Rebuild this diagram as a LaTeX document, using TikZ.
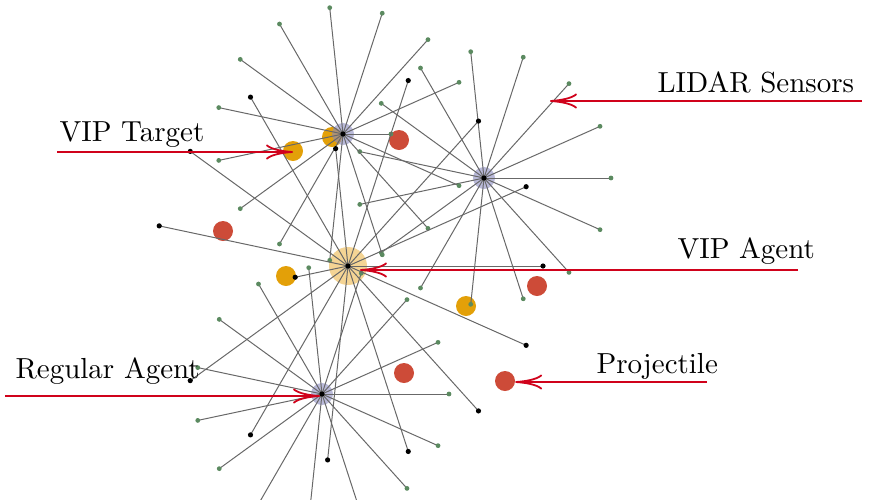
\documentclass[tikz,border=0pt]{standalone}
\usetikzlibrary{arrows.meta,calc}
\definecolor{pointred}{HTML}{D0021B}
\definecolor{vipgold}{HTML}{E3A008}
\definecolor{shotred}{HTML}{CD4B38}
\definecolor{raygray}{HTML}{686868}
\definecolor{hitgreen}{HTML}{5B8A60}
\definecolor{haze}{HTML}{8A8AC0}
\definecolor{vipglow}{HTML}{EFC267}

\begin{document}
\begin{tikzpicture}[x=1pt,y=-1pt,
    ray/.style={raygray,line width=1pt},
    tip/.style={hitgreen},
    target/.style={circle,fill=vipgold,inner sep=0pt,minimum size=20pt},
    shot/.style={circle,fill=shotred,inner sep=0pt,minimum size=20pt},
    lbl/.style={anchor=base west,scale=2.9,inner sep=0pt},
    pointer/.style={pointred,line width=1.8pt,-{To[length=27pt,width=15pt]}}]
  \useasboundingbox (0,0) rectangle (870,499);
  \clip (0,0) rectangle (870,499);
  % agents
  \coordinate (A1) at (343,134);
  \coordinate (A2) at (484,178);
  \coordinate (vip) at (348,266);
  \coordinate (A4) at (322,394);
  % targets and projectiles
  \node[target] (tgt) at (293,151) {};
  \node[target] (t2) at (332,137) {};
  \node[target] (t3) at (286,276) {};
  \node[target] (t4) at (466,306) {};
  \node[shot] (s1) at (399,140) {};
  \node[shot] (s2) at (223,231) {};
  \node[shot] (s3) at (537,286) {};
  \node[shot] (s4) at (404,373) {};
  \node[shot] (prj) at (505,381) {};
  % glow round the agents
  \fill[vipglow,opacity=0.7] (vip) circle (19);
  \foreach \ag in {A1,A2,A4} \fill[haze,opacity=0.6] (\ag) circle (11);
  % lidar beams, 15 per agent
  \foreach \ag in {A2,A4}
    \foreach \a in {0,24,...,336}
      {\draw[ray] (\ag) -- ++(-\a:127) coordinate (e); \fill[tip] (e) circle (2.4);}
  \foreach \a/\r in {0/48,24/127,48/127,72/127,96/127,120/127,144/127,168/127,192/127,216/127,240/127,264/127,288/127,312/127,336/127}
    {\draw[ray] (A1) -- ++(-\a:\r) coordinate (e); \fill[tip] (e) circle (2.4);}
  \foreach \a/\r in {0/195,24/195,48/195,72/195,96/118,120/195,144/195,168/193,192/54,216/195,240/195,264/195,288/195,312/195,336/195}
    {\draw[ray] (vip) -- ++(-\a:\r) coordinate (e); \fill (e) circle (2.6);}
  \foreach \ag in {A1,A2,vip,A4} \fill (\ag) circle (2.6);
  % labels
  \node[lbl] (lidar) at (657,92) {LIDAR Sensors};
  \node[lbl] (viptgt) at (59,141) {VIP Target};
  \node[lbl] (vipagt) at (677,258) {VIP Agent};
  \node[lbl] (regagt) at (15,378) {Regular Agent};
  \node[lbl] (proj) at (596,373) {Projectile};
  \coordinate (lidarfrom) at (862,101);
  \coordinate (lidarto) at (550,101);
  \coordinate (tgtfrom) at (57,152);
  \coordinate (vipfrom) at (798,270);
  \coordinate (vipto) at (360,270);
  \coordinate (regfrom) at (5,396);
  \coordinate (regto) at (320,396);
  \coordinate (prjfrom) at (707,382);
  \draw[pointer] (lidarfrom) -- (lidarto);
  \draw[pointer] (tgtfrom) -- (tgtfrom -| tgt);
  \draw[pointer] (vipfrom) -- (vipto);
  \draw[pointer] (regfrom) -- (regto);
  \draw[pointer] (prjfrom) -- (prjfrom -| prj.east);
\end{tikzpicture}
\end{document}
